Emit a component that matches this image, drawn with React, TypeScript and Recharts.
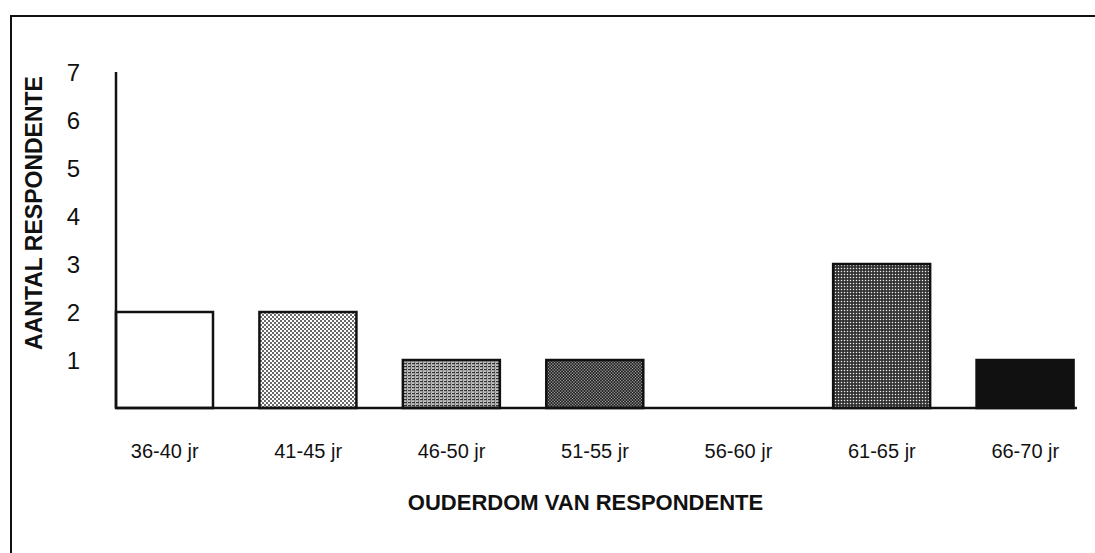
import { BarChart, Bar, XAxis, YAxis, Cell } from 'recharts'

const ageGroups = ['36-40 jr', '41-45 jr', '46-50 jr', '51-55 jr', '56-60 jr', '61-65 jr', '66-70 jr']
const respondents = [2, 2, 1, 1, 0, 3, 1]
const yTicks = [1, 2, 3, 4, 5, 6, 7]

// one fill per bar, mimicking the printed hatch patterns
const barFills = ['#ffffff', 'url(#dotsLight)', 'url(#lines)', 'url(#mottle)', '#ffffff', 'url(#dotsDark)', '#111111']

const data = ageGroups.map((g, i) => ({ group: g, count: respondents[i] }))

const ink = '#111'
const font = '"Liberation Sans", Arial, Helvetica, sans-serif'

export default function App() {
  return (
    <div style={{ position: 'fixed', left: 0, top: 0, width: 1095, height: 553, overflow: 'hidden', background: '#fff' }}>
      {/* scanned frame round the figure */}
      <div
        style={{
          position: 'absolute', left: 10, top: 15, width: 1200, height: 700,
          borderLeft: `2px solid ${ink}`, borderTop: `2px solid ${ink}`,
        }}
      />
      <div style={{ position: 'absolute', left: 0, top: 0 }}>
        <BarChart
          width={1095}
          height={553}
          data={data}
          margin={{ top: 72, right: 18, bottom: 0, left: 0 }}
          barSize={97}
        >
          <defs>
            <pattern id="dotsLight" width="4" height="4" patternUnits="userSpaceOnUse">
              <rect width="4" height="4" fill="#fff" />
              <circle cx="1" cy="1" r="0.9" fill="#222" />
              <circle cx="3" cy="3" r="0.9" fill="#222" />
            </pattern>
            <pattern id="lines" width="4" height="3" patternUnits="userSpaceOnUse">
              <rect width="4" height="3" fill="#c4c4c4" />
              <rect x="0" y="0" width="3" height="1.2" fill="#333" />
              <rect x="2" y="1.6" width="1.5" height="1" fill="#555" />
            </pattern>
            <pattern id="mottle" width="3" height="3" patternUnits="userSpaceOnUse">
              <rect width="3" height="3" fill="#2a2a2a" />
              <rect x="0.5" y="0.5" width="1" height="1" fill="#fff" />
              <rect x="2" y="2" width="0.8" height="0.8" fill="#ddd" />
            </pattern>
            <pattern id="dotsDark" width="3" height="3" patternUnits="userSpaceOnUse">
              <rect width="3" height="3" fill="#333" />
              <circle cx="1.5" cy="1.5" r="0.75" fill="#eee" />
            </pattern>
          </defs>

          <XAxis
            dataKey="group"
            height={145}
            padding={{ left: -23, right: -20 }}
            tickLine={false}
            tickSize={0}
            tickMargin={36}
            axisLine={{ stroke: ink, strokeWidth: 2.5 }}
            tick={{ fill: ink, fontSize: 20, fontFamily: font }}
            interval={0}
            label={{
              value: 'OUDERDOM VAN RESPONDENTE',
              position: 'insideBottom',
              offset: 43,
              dx: -11,
              fill: ink,
              fontSize: 22,
              fontWeight: 'bold',
              fontFamily: font,
            }}
          />
          <YAxis
            width={116}
            domain={[0, 7]}
            ticks={yTicks}
            tickLine={false}
            tickSize={0}
            tickMargin={36}
            axisLine={{ stroke: ink, strokeWidth: 2.5 }}
            tick={{ fill: ink, fontSize: 24, fontFamily: font }}
            label={{
              value: 'AANTAL RESPONDENTE',
              angle: -90,
              position: 'insideLeft',
              offset: 34,
              dy: -27,
              fill: ink,
              fontSize: 23,
              fontWeight: 'bold',
              fontFamily: font,
              style: { textAnchor: 'middle' },
            }}
          />
          <Bar dataKey="count" stroke={ink} strokeWidth={2.5} isAnimationActive={false}>
            {data.map((d, i) => (
              <Cell key={d.group} fill={barFills[i]} />
            ))}
          </Bar>
        </BarChart>
      </div>
    </div>
  )
}
